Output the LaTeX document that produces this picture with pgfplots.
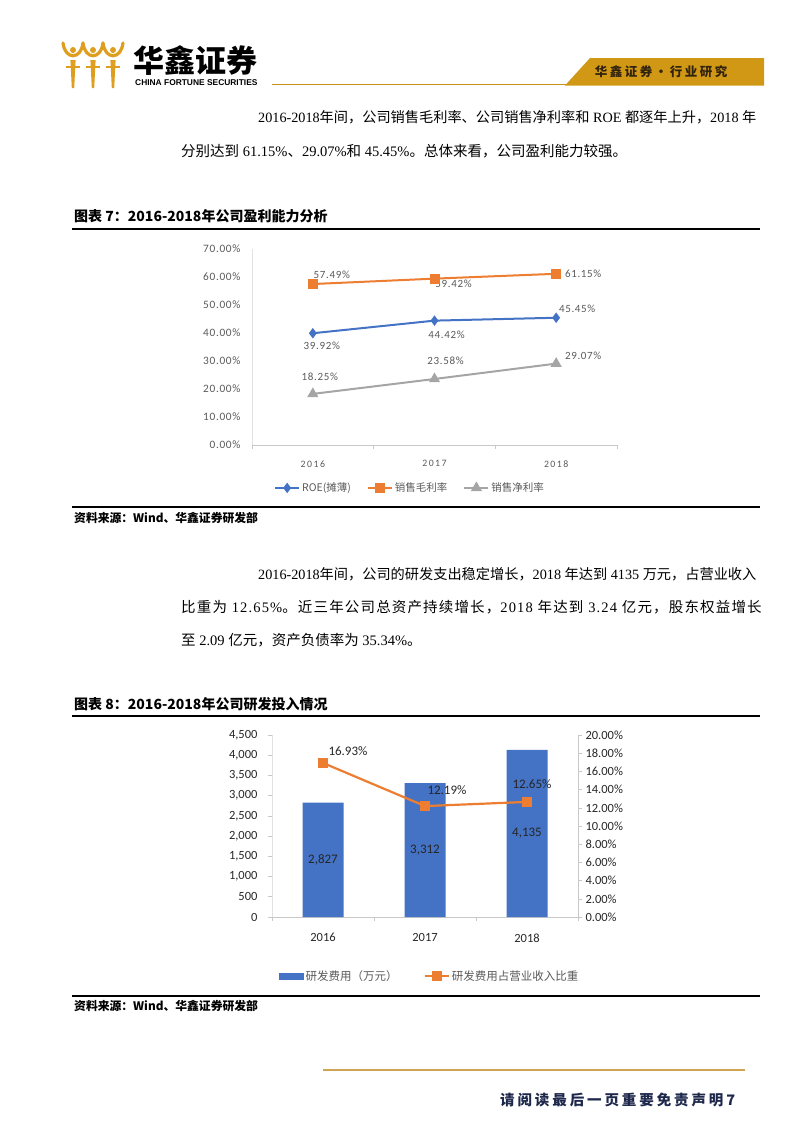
\documentclass[border=0pt]{standalone}
\usepackage{pgfplots}
\pgfplotsset{compat=1.18}
\usepackage{fontspec}
\setmainfont{Carlito}
\newfontfamily\cjk{Noto Sans CJK SC}
\newfontfamily\cjkw{Noto Sans CJK SC}[LetterSpace=8]
\newfontfamily\cjkls{Noto Sans CJK SC}[LetterSpace=20]
\newfontfamily\lat{Liberation Serif}
\newfontfamily\latw{Liberation Serif}[LetterSpace=8]
\newfontfamily\calA{Carlito}[LetterSpace=6]
\newfontfamily\calsp{Carlito}[LetterSpace=15]
\newfontfamily\hdsans{Liberation Sans}
\newcommand\lt[1]{{\lat #1}}
\newcommand\ltw[1]{{\latw #1}}
\newcommand\fs[1]{\fontsize{#1}{#1}\selectfont}
\definecolor{gold}{RGB}{200,145,25}
\definecolor{logogold}{RGB}{222,158,32}
\definecolor{banner}{RGB}{208,152,20}
\definecolor{bannertext}{RGB}{50,35,15}
\definecolor{footgold}{RGB}{205,165,85}
\definecolor{cblue}{RGB}{68,114,196}
\definecolor{corange}{RGB}{237,125,49}
\definecolor{cgray}{RGB}{165,165,165}
\definecolor{tgray}{RGB}{89,89,89}
\definecolor{axgray}{RGB}{200,200,200}
\definecolor{axlight}{RGB}{225,225,225}
\definecolor{navy}{RGB}{30,40,75}
\pgfplotsset{/pgf/number format/assume math mode=true}
\begin{document}
\begin{tikzpicture}
\path[use as bounding box] (0pt,0pt) rectangle (802pt,-1133pt);
% ---------- header ----------
\foreach \cx in {73,93,113}{
  \fill[logogold] (\cx pt-2.6pt,-60pt) -- (\cx pt+2.6pt,-60pt) -- (\cx pt+1.2pt,-88pt) -- (\cx pt-1.2pt,-88pt) -- cycle;
  \draw[logogold,line width=3.2pt,line cap=round] (\cx pt-10pt,-43pt) .. controls (\cx pt-8pt,-60pt) and (\cx pt+8pt,-60pt) .. (\cx pt+10pt,-43pt);
  \draw[logogold,line width=2.2pt] (\cx pt-7pt,-67pt) -- (\cx pt+7pt,-67pt);
  \fill[logogold] (\cx pt,-50pt) circle (3pt);
}
\node[anchor=west,inner sep=0pt] at (133pt,-61pt) {\cjk\bfseries\fs{31}华鑫证券};
\node[anchor=west,inner sep=0pt] at (135pt,-83pt) {\hdsans\bfseries\fs{8.4}CHINA FORTUNE SECURITIES};
\draw[gold,line width=1.5pt] (272pt,-84.5pt) -- (570pt,-84.5pt);
\fill[banner] (565pt,-85.5pt) -- (590pt,-58pt) -- (764pt,-58pt) -- (764pt,-85.5pt) -- cycle;
\node[inner sep=0pt] at (661pt,-72pt) {\cjkls\bfseries\fs{12.5}\color{bannertext}华鑫证券·行业研究};
% ---------- paragraph 1 ----------
\node[anchor=west,inner sep=0pt] at (258pt,-117pt) {\cjk\fs{14.2}\lt{2016-2018}年间，公司销售毛利率、公司销售净利率和\lt{\ ROE\ }都逐年上升，\lt{2018\ }年};
\node[anchor=west,inner sep=0pt] at (181pt,-151pt) {\cjk\fs{14.5}分别达到\lt{\ 61.15\%}、\lt{29.07\%}和\lt{\ 45.45\%}。总体来看，公司盈利能力较强。};
% ---------- figure 7 title ----------
\node[anchor=west,inner sep=0pt] at (74pt,-216pt) {\cjk\bfseries\fs{14}图表 7：2016-2018年公司盈利能力分析};
\draw[line width=2.2pt] (72pt,-229pt) -- (760pt,-229pt);
% ---------- chart 1 ----------
\begin{axis}[
  at={(252pt,-445pt)}, anchor=south west, scale only axis,
  width=365pt, height=196pt,
  xmin=-0.5, xmax=2.5, ymin=0, ymax=70,
  axis x line*=bottom, axis y line*=left,
  x axis line style={-,draw=axgray,line width=0.6pt},
  y axis line style={-,draw=axlight,line width=0.6pt},
  xtick={0,1,2}, xticklabels={2016,2017,2018},
  minor xtick={-0.5,0.5,1.5,2.5},
  tick align=outside, major tick length=4pt, minor tick length=4pt,
  major x tick style={draw=none}, major y tick style={draw=none},
  minor x tick style={draw=axgray,line width=0.6pt},
  ytick={0,10,...,70},
  yticklabel={\pgfmathprintnumber[fixed,fixed zerofill,precision=2]{\tick}\%},
  yticklabel style={font=\calA\fs{11.3}, text=tgray, xshift=-4pt},
  xticklabel style={font=\calsp\fs{9.8}, text=tgray, yshift=-8pt},
  clip=false,
  legend style={at={(0.433,-0.219)}, anchor=center, draw=none, fill=none,
    legend columns=3, font=\cjk\fs{10.5}, text=tgray, inner sep=0pt,
    /tikz/every even column/.append style={column sep=14pt}},
  legend image code/.code={\draw[mark repeat=2,mark phase=2,#1] plot coordinates {(0pt,0pt) (12pt,0pt) (24pt,0pt)};},
]
\addplot[color=cblue, line width=2pt, mark=diamond*, mark size=3.6pt, mark options={solid}] coordinates {(0,39.92) (1,44.42) (2,45.45)};
\addlegendentry{ROE(摊薄)}
\addplot[color=corange, line width=2pt, mark=square*, mark size=4pt, mark options={solid}] coordinates {(0,57.49) (1,59.42) (2,61.15)};
\addlegendentry{销售毛利率}
\addplot[color=cgray, line width=2pt, mark=triangle*, mark size=4.5pt, mark options={solid}] coordinates {(0,18.25) (1,23.58) (2,29.07)};
\addlegendentry{销售净利率}
\node[font=\calA\fs{11}, text=tgray, xshift=19pt, yshift=9pt] at (axis cs:0,57.49) {57.49\%};
\node[font=\calA\fs{11}, text=tgray, xshift=19pt, yshift=-5pt] at (axis cs:1,59.42) {59.42\%};
\node[font=\calA\fs{11}, text=tgray, xshift=27pt, yshift=0pt] at (axis cs:2,61.15) {61.15\%};
\node[font=\calA\fs{11}, text=tgray, xshift=9pt, yshift=-13pt] at (axis cs:0,39.92) {39.92\%};
\node[font=\calA\fs{11}, text=tgray, xshift=12pt, yshift=-14pt] at (axis cs:1,44.42) {44.42\%};
\node[font=\calA\fs{11}, text=tgray, xshift=21pt, yshift=9pt] at (axis cs:2,45.45) {45.45\%};
\node[font=\calA\fs{11}, text=tgray, xshift=7pt, yshift=17pt] at (axis cs:0,18.25) {18.25\%};
\node[font=\calA\fs{11}, text=tgray, xshift=11pt, yshift=18pt] at (axis cs:1,23.58) {23.58\%};
\node[font=\calA\fs{11}, text=tgray, xshift=27pt, yshift=8pt] at (axis cs:2,29.07) {29.07\%};
\end{axis}
% ---------- source 1 ----------
\draw[line width=2.2pt] (72pt,-507pt) -- (760pt,-507pt);
\node[anchor=west,inner sep=0pt] at (74pt,-518pt) {\cjk\bfseries\fs{11.8}资料来源：Wind、华鑫证券研发部};
% ---------- paragraph 2 ----------
\node[anchor=west,inner sep=0pt] at (258pt,-574pt) {\cjk\fs{14.2}\lt{2016-2018}年间，公司的研发支出稳定增长，\lt{2018\ }年达到\lt{\ 4135\ }万元，占营业收入};
\node[anchor=west,inner sep=0pt] at (181pt,-607pt) {\cjkw\fs{14.5}比重为\ltw{\ 12.65\%}。近三年公司总资产持续增长，\ltw{2018\ }年达到\ltw{\ 3.24\ }亿元，股东权益增长};
\node[anchor=west,inner sep=0pt] at (181pt,-640pt) {\cjk\fs{14.5}至\lt{\ 2.09\ }亿元，资产负债率为\lt{\ 35.34\%}。};
% ---------- figure 8 title ----------
\node[anchor=west,inner sep=0pt] at (74pt,-704pt) {\cjk\bfseries\fs{14}图表 8：2016-2018年公司研发投入情况};
\draw[line width=2.2pt] (72pt,-716pt) -- (760pt,-716pt);
% ---------- chart 2 ----------
\begin{axis}[
  at={(272pt,-917pt)}, anchor=south west, scale only axis,
  width=306pt, height=182pt,
  xmin=-0.5, xmax=2.5, ymin=0, ymax=4500,
  ytick={0,500,...,4500}, scaled y ticks=false,
  /pgf/number format/1000 sep={,},
  axis x line*=bottom, axis y line*=left,
  x axis line style={-,draw=axgray,line width=0.6pt},
  y axis line style={-,draw=axlight,line width=0.6pt},
  xtick={0,1,2}, xticklabels={2016,2017,2018},
  minor xtick={-0.5,0.5,1.5,2.5},
  tick align=outside, major tick length=4pt, minor tick length=4pt,
  major x tick style={draw=none},
  minor x tick style={draw=axgray,line width=0.6pt},
  major y tick style={draw=axgray,line width=0.6pt},
  yticklabel style={font=\fs{12.5}, text=black!85, xshift=-7pt},
  xticklabel style={font=\fs{12.5}, text=black!85, yshift=-9pt},
  clip=false,
]
\addplot[ybar, bar width=41pt, fill=cblue, draw=none] coordinates {(0,2827) (1,3312) (2,4135)};
\node[font=\fs{13}, text=black!85] at (axis cs:0,1413.5) {2,827};
\node[font=\fs{13}, text=black!85] at (axis cs:1,1656) {3,312};
\node[font=\fs{13}, text=black!85] at (axis cs:2,2067.5) {4,135};
\end{axis}
\begin{axis}[
  at={(272pt,-917pt)}, anchor=south west, scale only axis,
  width=306pt, height=182pt,
  xmin=-0.5, xmax=2.5, ymin=0, ymax=20,
  ytick={0,2,...,20},
  axis x line=none, axis y line*=right,
  y axis line style={-,draw=axgray,line width=0.6pt},
  tick align=outside, major tick length=4pt,
  major y tick style={draw=axgray,line width=0.6pt},
  yticklabel={\pgfmathprintnumber[fixed,fixed zerofill,precision=2]{\tick}\%},
  yticklabel style={font=\fs{12.5}, text=black!85},
  clip=false,
  legend style={at={(0.516,-0.324)}, anchor=center, draw=none, fill=none,
    legend columns=2, font=\cjk\fs{11.5}, text=tgray, inner sep=0pt,
    /tikz/every even column/.append style={column sep=24pt}},
  legend image code/.code={\draw[mark repeat=2,mark phase=2,#1] plot coordinates {(0pt,0pt) (12pt,0pt) (24pt,0pt)};},
]
\addlegendimage{legend image code/.code={\fill[cblue] (0pt,-2.8pt) rectangle (24pt,2.8pt);}}
\addlegendentry{研发费用（万元）}
\addplot[color=corange, line width=2.2pt, mark=square*, mark size=3.6pt, mark options={solid}] coordinates {(0,16.93) (1,12.19) (2,12.65)};
\addlegendentry{研发费用占营业收入比重}
\node[font=\fs{13}, text=black!85, xshift=25pt, yshift=12pt] at (axis cs:0,16.93) {16.93\%};
\node[font=\fs{13}, text=black!85, xshift=22pt, yshift=16pt] at (axis cs:1,12.19) {12.19\%};
\node[font=\fs{13}, text=black!85, xshift=5pt, yshift=18pt] at (axis cs:2,12.65) {12.65\%};
\end{axis}
% ---------- source 2 ----------
\draw[line width=2.2pt] (72pt,-996pt) -- (760pt,-996pt);
\node[anchor=west,inner sep=0pt] at (74pt,-1006pt) {\cjk\bfseries\fs{11.8}资料来源：Wind、华鑫证券研发部};
% ---------- footer ----------
\draw[footgold,line width=1.8pt] (323pt,-1070pt) -- (745pt,-1070pt);
\node[anchor=west,inner sep=0pt] at (500pt,-1100pt) {\cjkls\bfseries\fs{14.5}\color{navy}请阅读最后一页重要免责声明7};
\end{tikzpicture}
\end{document}
